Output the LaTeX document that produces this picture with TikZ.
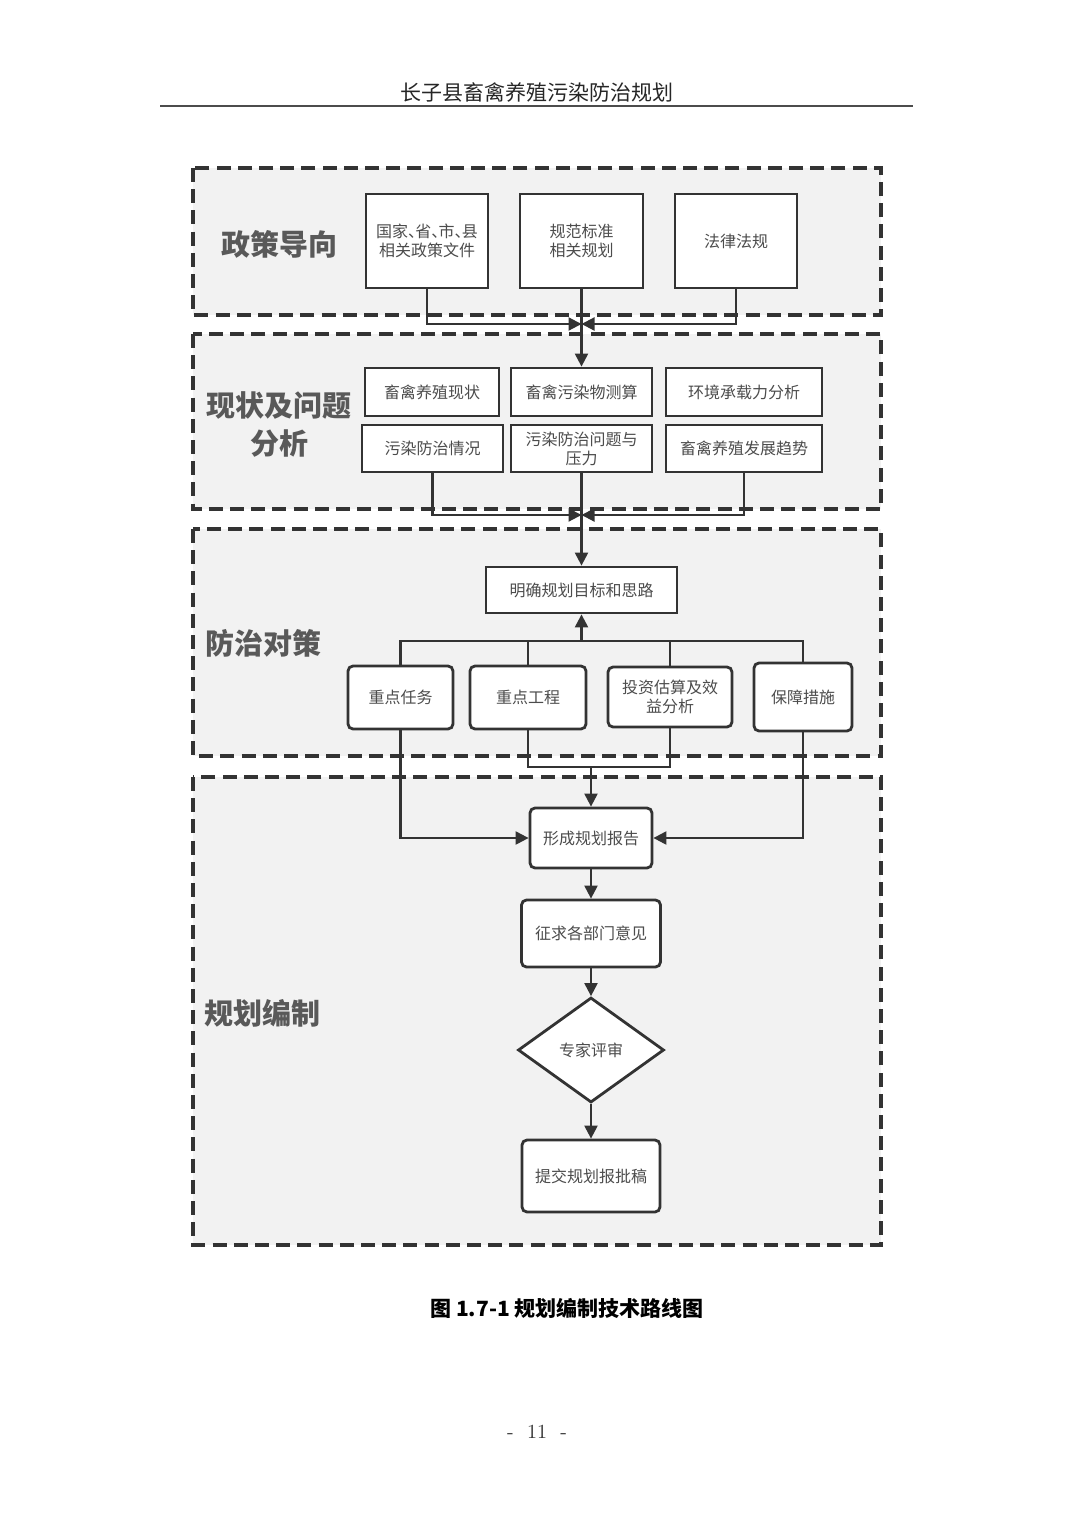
\documentclass[tikz,border=0pt]{standalone}
\usepackage{fontspec}
\usetikzlibrary{arrows.meta,shapes.geometric}
\newfontfamily\cjk{Noto Sans CJK SC}
\newcommand{\dunhao}{\makebox[0.45em][l]{、}}
\tikzstyle{secbox}=[draw=black!80,line width=1.6pt,dash pattern=on 7pt off 3.6pt,fill=black!5]
\tikzstyle{seclabel}=[font=\cjk\bfseries\fontsize{14.5}{19}\selectfont,text=black!65,align=center]
\tikzstyle{sqbox}=[draw=black!80,line width=1.4pt,fill=white,text=black!70,font=\cjk\fontsize{8}{9.5}\selectfont,align=center,inner sep=1pt]
\tikzstyle{rdbox}=[sqbox,rounded corners=2.5pt]
\tikzstyle{link}=[draw=black!80,line width=1.1pt]
\tikzstyle{arr}=[link,-{Triangle[length=6.5pt,width=6.5pt]}]

\begin{document}
\begin{tikzpicture}[x=0.5pt,y=-0.5pt]
    \useasboundingbox (0,0) rectangle (1074,1520);
    % page header
    \node[font=\cjk\fontsize{10.5}{12}\selectfont,text=black!85] (head) at (537,93) {长子县畜禽养殖污染防治规划};
    \draw[black!70,line width=0.6pt] (160,106) -- (913,106);

    % the four bands
    \draw[secbox] (193,168) rectangle (881,315);
    \draw[secbox] (193,334) rectangle (881,509);
    \draw[secbox] (193,529) rectangle (881,756);
    \draw[secbox] (193,777) rectangle (881,1245);
    \node[seclabel] (l1) at (279,244) {政策导向};
    \node[seclabel] (l2) at (279,424) {现状及问题\\分析};
    \node[seclabel] (l3) at (263,643) {防治对策};
    \node[seclabel] (l4) at (262,1013) {规划编制};

    % policy
    \node[sqbox,minimum width=61pt,minimum height=47pt] (p1) at (427,241) {国家\dunhao 省\dunhao 市\dunhao 县\\相关政策文件};
    \node[sqbox,minimum width=61.5pt,minimum height=47pt] (p2) at (581.5,241) {规范标准\\相关规划};
    \node[sqbox,minimum width=61pt,minimum height=47pt] (p3) at (736,241) {法律法规};

    % status and problems
    \node[sqbox,minimum width=67pt,minimum height=24pt] (b1) at (432,392) {畜禽养殖现状};
    \node[sqbox,minimum width=70.5pt,minimum height=24pt] (b2) at (581.5,392) {畜禽污染物测算};
    \node[sqbox,minimum width=78pt,minimum height=24pt] (b3) at (744,392) {环境承载力分析};
    \node[sqbox,minimum width=70.5pt,minimum height=23.5pt] (b4) at (432.5,448.5) {污染防治情况};
    \node[sqbox,minimum width=70.5pt,minimum height=23.5pt] (b5) at (581.5,448.5) {污染防治问题与\\压力};
    \node[sqbox,minimum width=78pt,minimum height=23.5pt] (b6) at (744,448.5) {畜禽养殖发展趋势};

    % measures
    \node[sqbox,minimum width=95.5pt,minimum height=23pt] (goal) at (581.5,590) {明确规划目标和思路};
    \node[rdbox,minimum width=52.5pt,minimum height=31.5pt] (t1) at (400.5,697.5) {重点任务};
    \node[rdbox,minimum width=58pt,minimum height=31.5pt] (t2) at (528,697.5) {重点工程};
    \node[rdbox,minimum width=62pt,minimum height=30pt] (t3) at (670,697) {投资估算及效\\益分析};
    \node[rdbox,minimum width=49pt,minimum height=34pt] (t4) at (803,697) {保障措施};

    % compilation
    \node[rdbox,minimum width=61pt,minimum height=30pt] (rep) at (591,838) {形成规划报告};
    \node[rdbox,minimum width=69.5pt,minimum height=33.5pt] (ask) at (591,933.5) {征求各部门意见};
    \node[sqbox,diamond,inner sep=0pt,minimum width=73pt,minimum height=52.5pt] (rev) at (591,1050) {专家评审};
    \node[rdbox,minimum width=69pt,minimum height=36pt] (sub) at (591,1176) {提交规划报批稿};

    % caption and page number
    \node[font=\cjk\bfseries\fontsize{10.5}{12}\selectfont] (cap) at (567,1308) {图 1.7-1 规划编制技术路线图};
    \node[font=\fontsize{10}{12}\selectfont,text=black!80] (pgno) at (537,1432) {-\ \ 11\ \ -};

    % connectors
    \coordinate (m1) at (581.5,324);
    \coordinate (m2) at (581.5,515);
    \coordinate (jt) at (581.5,641);
    \coordinate (jb) at (591,767);
    \draw[arr] (p1.south) |- (m1);
    \draw[arr] (p3.south) |- (m1);
    \draw[arr] (b4.south) |- (m2);
    \draw[arr] (b6.south) |- (m2);
    \draw[link] (t1.north) |- (jt) -| (t4.north);
    \draw[link] (t2.north) |- (jt);
    \draw[link] (t3.north) |- (jt);
    \draw[arr] (jt) -- (goal);
    \draw[link] (t2.south) |- (jb) -| (t3.south);
    \draw[arr] (jb) -- (rep);
    \draw[arr] (t1.south) |- (rep.west);
    \draw[arr] (t4.south) |- (rep.east);

    \foreach \from/\to in {p2/b2,b5/goal,rep/ask,ask/rev,rev/sub}
    \draw[arr] (\from) -- (\to);
\end{tikzpicture}
\end{document}
